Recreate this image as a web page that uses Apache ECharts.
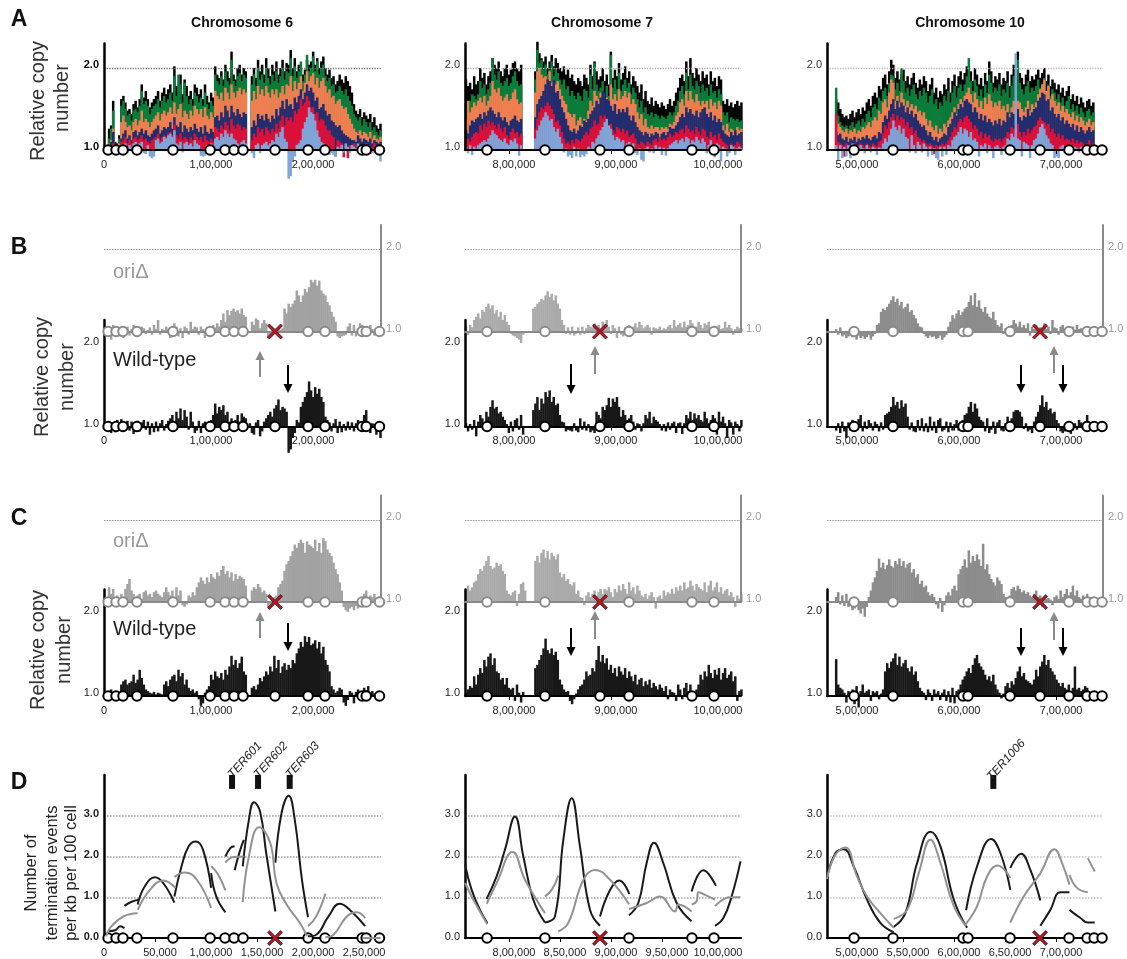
<!DOCTYPE html>
<html><head><meta charset="utf-8">
<script src="https://cdn.jsdelivr.net/npm/echarts@6/dist/echarts.min.js"></script>
<style>html,body{margin:0;padding:0;background:#fff}#c{width:1127px;height:959px}</style></head>
<body><div id="c"></div>
<script>
// Bars: copy number above 1.0, in hundredths, one value per 2 kb bin
const a6k=[0,0,26,30,60,10,8,18,62,66,58,48,50,44,56,60,52,62,80,64,72,62,52,58,62,66,72,60,70,76,68,74,80,70,
102,78,70,92,68,86,78,66,72,62,80,76,68,74,62,80,66,58,70,64,102,92,88,96,86,104,96,88,120,92,86,100,104,92,
100,96,0,0,90,100,88,110,96,104,92,112,100,90,104,96,108,92,100,110,96,106,104,122,100,112,96,104,100,92,98,110,104,108,
120,104,112,100,108,114,100,92,98,88,90,80,84,92,86,82,90,84,78,70,56,48,44,50,40,46,42,38,44,34,40,30,26,32];
const a6g=[0,0,14,26,48,6,6,14,54,60,50,42,44,36,48,50,46,54,72,56,60,54,44,50,54,56,62,52,60,66,58,62,70,60,
90,66,92,80,58,82,66,56,62,54,70,66,58,64,54,70,56,50,60,54,92,84,80,90,78,96,84,80,110,84,78,90,94,84,
92,88,0,0,80,92,78,100,86,92,82,100,88,80,92,84,96,82,90,100,86,96,94,112,90,102,88,96,108,84,92,116,96,100,
114,96,108,92,100,104,90,84,88,78,80,70,72,78,72,68,74,66,60,54,44,40,36,40,30,38,34,28,34,24,28,22,18,24];
const a6o=[0,0,8,12,26,4,4,8,34,42,34,28,30,24,34,38,30,36,48,34,38,34,28,34,38,42,46,36,44,48,42,46,52,44,
58,44,50,56,40,48,44,38,48,42,54,50,44,50,40,52,42,38,46,40,72,66,62,70,60,76,70,62,80,70,64,72,76,68,
74,70,0,0,60,72,62,78,68,74,66,78,70,64,74,68,74,64,70,78,68,80,78,90,72,84,74,82,90,72,82,96,84,90,
94,80,88,76,84,88,78,70,74,64,66,56,60,62,54,50,52,44,38,32,26,22,20,24,18,22,20,16,22,14,18,14,12,16];
const a6n=[0,0,4,10,22,2,2,4,14,20,24,14,18,12,22,24,18,22,26,20,24,18,16,20,24,26,30,20,24,28,26,28,34,26,
40,30,28,34,22,30,26,22,28,24,32,26,22,28,20,30,22,20,26,22,40,42,36,46,40,54,48,40,54,46,42,50,44,40,
46,44,0,0,28,36,30,44,38,42,36,44,38,34,42,38,50,42,52,60,50,62,54,56,50,64,58,66,74,62,70,80,72,76,
70,60,64,50,52,56,48,42,44,36,34,30,28,30,24,20,18,16,14,12,12,10,18,14,10,14,12,10,14,8,12,10,8,10];
const a6r=[0,0,2,4,8,0,0,2,10,12,16,8,12,8,14,16,12,14,18,12,14,10,8,12,14,16,20,12,16,18,16,20,22,18,
30,18,14,20,12,16,14,10,16,12,20,16,12,16,10,18,12,10,14,10,28,26,22,30,26,34,30,24,38,30,26,32,30,24,
28,26,0,0,12,20,16,28,22,26,18,28,24,20,26,22,32,26,36,42,30,40,36,40,34,48,44,50,62,54,58,66,60,52,
52,44,46,36,38,36,30,24,24,18,16,-8,12,10,8,-9,6,-10,6,4,8,6,-3,4,2,-4,8,4,-5,4,8,6,4,2];
const a6b=[0,0,0,0,2,0,0,0,4,6,8,-4,6,4,8,10,6,8,10,-4,-5,6,-8,-10,-8,12,14,8,10,16,14,18,20,16,
24,8,6,10,-3,8,10,6,8,4,12,8,6,-7,-8,-7,6,4,8,4,14,16,12,20,16,24,20,16,20,14,12,8,6,10,
12,8,0,0,-4,-10,6,8,-4,6,8,10,6,8,12,10,20,16,22,28,14,10,-35,-32,-14,-8,6,8,12,26,34,40,52,46,
44,36,24,16,10,8,-4,6,-6,-4,-6,-8,4,2,6,-3,8,4,-4,6,4,2,8,6,4,-3,-4,6,2,-4,-3,4,6,-14];
const a7k=[86,78,82,74,90,80,84,100,88,94,80,90,96,112,104,100,108,96,90,100,104,92,98,106,108,100,96,104,0,0,0,0,0,0,
96,132,118,112,108,114,100,108,116,102,112,106,100,96,102,92,98,88,92,84,80,88,84,78,92,88,80,104,90,108,96,86,90,100,
84,92,80,120,88,98,90,106,86,94,102,88,96,80,90,84,78,70,80,62,72,60,56,64,54,60,56,52,58,54,50,56,62,54,
60,70,76,88,92,84,108,90,112,94,88,100,92,84,96,88,92,80,96,84,88,78,90,86,60,56,62,54,58,52,56,60,54,58];
const a7g=[56,52,60,68,66,62,68,84,76,80,68,74,82,112,92,86,96,82,78,84,88,78,82,90,96,84,78,80,0,0,0,0,0,0,
86,122,106,110,98,104,92,98,108,90,100,94,86,80,86,74,78,66,72,66,62,70,66,60,74,72,64,92,74,106,80,72,76,84,
70,78,66,116,76,86,74,94,72,80,86,76,82,68,76,70,62,52,60,46,52,44,42,46,40,44,42,38,42,40,38,42,46,42,
46,54,60,72,78,68,94,74,92,78,74,84,78,70,80,72,76,66,80,70,72,64,74,68,46,42,46,34,40,38,36,38,34,36];
const a7o=[38,60,46,52,58,54,60,64,58,66,54,60,66,84,74,70,76,66,60,64,68,60,62,70,74,62,56,58,0,0,0,0,0,0,
70,96,100,92,88,90,84,96,82,86,80,84,74,66,60,56,46,44,40,44,30,36,40,32,38,36,48,60,54,72,66,62,70,72,
60,64,56,80,62,68,60,74,62,66,72,64,70,56,62,56,46,38,44,30,38,28,26,30,26,28,28,24,28,26,28,26,32,30,
34,42,46,58,62,54,72,60,72,62,58,68,60,54,60,56,60,50,62,54,58,50,60,54,30,24,32,22,26,24,20,28,24,26];
const a7n=[24,20,30,36,34,38,40,44,38,46,42,48,52,48,44,40,46,40,36,40,34,30,36,38,42,36,34,38,0,0,0,0,0,0,
40,56,62,66,72,80,86,84,78,86,70,72,62,52,46,38,30,24,22,26,20,24,30,28,36,34,38,44,48,52,60,56,64,72,
70,62,60,54,48,56,44,50,46,50,46,52,42,36,42,34,28,24,22,18,22,20,16,20,18,22,20,16,20,22,18,22,28,26,
26,30,34,40,44,40,52,46,50,44,42,48,40,46,50,52,44,40,46,36,42,34,38,34,24,20,18,16,22,18,24,18,20,22];
const a7r=[12,14,10,16,20,22,20,30,24,32,28,36,30,34,30,26,32,26,22,28,18,14,22,26,20,22,16,20,0,0,0,0,0,0,
26,38,46,52,50,54,58,54,50,44,34,36,30,22,14,8,10,6,12,8,14,12,10,14,18,22,18,26,28,36,30,32,42,38,
42,36,30,32,24,20,28,26,22,26,20,24,16,18,20,14,8,6,10,8,6,10,8,6,12,14,10,16,12,14,12,16,20,16,
18,22,20,24,26,20,30,26,22,24,20,28,22,18,26,24,16,14,22,16,18,12,20,14,10,8,6,-3,8,4,6,10,8,4];
const a7b=[4,-4,6,-6,4,2,6,8,10,12,10,14,18,24,20,18,14,12,10,14,8,6,12,10,14,8,-7,6,0,0,0,0,0,0,
14,24,30,36,40,46,42,36,38,28,22,26,16,8,-3,2,-8,-6,-10,4,-8,2,-9,-6,-8,-5,4,2,10,8,14,18,24,28,
34,38,30,26,18,12,16,14,10,12,-3,8,10,4,8,-4,-6,2,-12,-14,2,4,-3,2,-4,6,2,4,-6,3,-7,2,6,8,
10,12,8,12,14,10,16,14,8,12,10,16,12,8,14,10,-4,6,12,-6,-9,8,6,-14,4,2,-8,-4,6,4,-6,2,4,2];
const a10k=[0,0,0,0,62,58,50,44,40,42,38,44,48,40,46,50,44,52,48,58,62,54,66,70,64,78,74,88,92,80,96,110,104,88,
96,86,92,98,84,90,80,88,94,82,76,86,80,90,84,72,80,88,70,76,64,72,68,80,74,88,70,84,92,78,90,96,86,94,
102,88,96,84,100,92,80,88,78,94,84,108,96,82,90,86,94,80,88,84,96,78,92,104,86,120,94,88,80,92,98,84,90,86,
92,98,88,94,100,84,92,78,86,82,74,80,70,76,66,72,78,62,68,60,66,56,64,58,52,60,62,54,58,0,0,0,0,0];
const a10g=[0,0,0,0,76,42,34,30,28,30,26,30,34,28,32,36,30,38,34,44,48,40,52,56,50,64,60,72,76,66,82,92,90,74,
82,72,100,84,70,76,66,74,80,68,62,72,66,76,70,58,66,74,56,62,50,58,54,66,60,72,58,70,78,64,76,80,72,80,
90,112,84,72,86,78,66,74,64,80,70,92,82,70,76,72,80,66,74,70,82,64,78,90,72,110,82,74,68,78,84,70,76,72,
78,86,76,80,88,72,80,66,74,70,62,68,58,64,54,60,66,50,56,48,54,44,52,46,40,48,50,42,46,0,0,0,0,0];
const a10o=[0,0,0,0,36,32,28,24,22,26,20,24,22,26,20,24,22,28,26,30,34,28,36,40,36,48,44,58,62,52,70,86,82,60,
66,58,70,62,54,60,52,56,50,54,46,48,42,46,38,30,36,28,24,30,20,26,22,32,28,36,40,46,52,44,56,62,58,66,
70,76,68,58,70,62,52,60,50,64,56,68,60,52,58,54,60,50,54,48,56,44,52,60,48,60,58,50,46,52,60,48,56,52,
58,68,74,80,86,72,78,62,68,60,54,58,48,54,46,50,44,40,46,36,42,34,40,36,30,34,38,30,34,0,0,0,0,0];
const a10n=[0,0,0,0,22,18,20,14,12,16,10,14,12,16,10,14,12,16,14,18,14,12,16,18,14,22,20,34,42,38,48,56,62,50,
60,52,58,54,46,52,44,48,40,44,36,32,28,30,24,18,22,16,12,16,10,14,16,20,18,28,32,38,46,42,50,56,52,60,
62,58,56,46,52,46,38,44,36,42,34,38,34,30,36,32,38,30,36,34,46,40,46,44,42,50,40,36,42,40,50,42,46,50,
52,60,64,70,68,60,62,48,52,44,40,44,36,40,32,36,32,28,32,24,30,22,28,24,20,24,28,22,24,0,0,0,0,0];
const a10r=[0,0,0,0,44,10,8,6,-8,8,4,-6,6,8,4,6,8,6,4,8,6,4,8,6,4,10,12,20,30,26,34,40,44,36,
42,36,40,38,30,34,26,28,20,24,16,14,10,12,8,6,8,6,-5,6,4,6,8,6,8,12,16,22,28,26,34,38,34,40,
42,38,34,26,30,26,18,22,14,20,16,18,12,10,14,12,14,10,14,16,22,20,28,26,24,32,22,16,22,18,26,20,24,28,
30,36,40,36,34,30,32,22,26,20,16,20,14,18,12,14,12,10,14,8,12,8,10,8,6,8,12,6,8,0,0,0,0,0];
const a10b=[0,0,0,0,6,-13,6,-10,4,-8,6,-10,8,4,-6,4,6,2,-4,6,2,-3,4,2,-6,3,2,8,14,10,18,26,36,28,
24,30,20,26,16,14,-3,18,6,-4,10,6,-3,8,4,-8,4,-6,2,-10,-12,4,-8,4,-6,6,4,12,16,18,22,28,20,26,
24,16,22,12,14,10,-8,6,4,8,-4,6,2,-10,4,6,2,-6,4,6,14,12,20,16,118,14,12,-8,10,8,6,-10,6,12,
14,20,28,32,26,18,14,8,6,-10,-8,-10,4,6,-4,2,6,2,-3,4,2,-3,4,2,-2,2,4,-2,2,0,0,0,0,0];
const b6o=[0,0,5,-10,8,6,3,-6,5,-8,4,6,-5,3,8,2,4,-4,6,4,-3,2,5,-4,8,3,14,-4,3,2,6,3,-8,4,
10,6,-6,4,-8,6,4,-4,12,3,6,5,-4,6,3,-8,5,-3,4,8,5,10,6,14,22,12,26,20,25,28,24,26,22,28,
20,18,0,0,12,8,16,14,4,10,14,10,-8,-5,6,4,-3,5,2,4,28,22,34,30,34,38,50,44,36,44,52,48,54,63,
60,63,56,62,50,46,44,36,32,24,18,12,-6,-8,-6,-5,-4,6,10,-5,8,-6,4,10,8,3,-6,4,8,3,-5,3,2,3];
const b6w=[0,-5,6,-8,3,-7,8,-3,9,-6,4,7,-5,6,-9,3,7,-6,5,8,-4,6,-10,4,-7,6,-6,4,8,-5,3,7,10,14,
6,18,10,22,8,20,12,-4,18,6,-8,-5,7,-8,4,6,3,-6,8,14,28,16,24,20,26,14,18,6,10,4,8,14,6,16,
12,10,0,4,-8,-10,5,8,-12,-6,6,10,14,18,12,22,26,33,20,24,22,18,-32,-28,-14,-8,8,5,24,30,36,42,55,44,
36,48,40,46,36,30,12,8,5,-6,4,9,-8,6,-7,3,-5,6,-4,5,-6,4,8,-5,3,14,20,6,-8,4,3,-10,2,-14];
const c6o=[0,6,18,10,16,6,8,4,10,6,16,22,28,14,10,6,8,10,4,12,14,8,10,6,12,14,10,8,6,12,18,12,8,14,
6,18,8,14,-4,-6,-3,8,6,12,8,18,24,30,26,22,30,24,34,30,28,36,32,39,44,34,38,30,36,26,34,28,32,30,
28,20,0,0,14,18,16,22,18,12,14,10,-6,-3,4,6,8,18,22,26,38,46,50,56,62,70,66,72,76,72,60,74,70,68,
66,76,62,72,60,78,74,64,60,56,48,40,34,24,14,-6,-10,-12,-8,-6,-10,-5,-8,3,6,10,14,4,8,6,10,4,6,3];
const c6w=[0,3,5,8,4,-3,6,4,14,18,20,14,16,18,26,16,20,32,22,14,8,6,4,3,5,2,4,3,2,14,18,12,20,24,
26,18,32,24,28,14,20,10,6,8,4,6,-4,-12,-9,4,8,12,26,20,30,24,22,28,20,32,26,36,49,38,44,34,40,48,
30,26,0,0,10,12,8,14,22,18,24,30,26,36,30,49,34,44,28,36,40,32,38,34,44,40,52,58,66,60,73,66,72,62,
64,68,58,66,52,60,44,38,30,12,8,4,6,10,8,-8,-12,-5,6,4,-9,5,8,3,6,10,7,12,4,6,3,2,4,2];
const b7o=[6,-4,8,5,14,18,22,16,26,24,30,34,28,32,22,26,18,24,14,20,12,8,-3,-5,-6,-8,-10,-14,-4,0,0,0,0,28,
30,34,36,40,38,44,49,42,46,38,44,34,28,14,8,-3,5,-4,6,-5,-3,5,-4,6,-3,4,8,6,5,10,6,8,4,12,
8,14,6,-3,8,4,-8,6,-4,-6,5,3,8,4,6,10,5,12,8,4,6,8,5,-4,5,4,3,6,2,4,3,6,8,4,
14,6,8,10,5,12,6,8,14,10,4,6,12,8,4,10,8,12,5,3,-4,6,8,3,4,12,5,8,4,-4,3,6,4,3];
const b7w=[4,-6,3,-4,8,-12,6,14,10,4,18,12,24,32,22,24,16,18,12,8,3,-8,6,-6,8,10,-4,14,-10,0,0,0,0,20,
28,36,20,34,28,42,36,44,30,36,26,28,14,6,5,-6,-4,-5,-6,4,-5,-7,10,-4,6,-5,3,-7,-5,-8,18,14,10,24,
20,26,35,24,34,30,36,24,12,20,14,8,10,14,6,-4,4,3,-6,4,14,10,18,4,12,8,6,3,-5,3,-6,5,-4,4,
6,-8,4,5,-9,4,14,10,18,8,16,10,14,8,6,18,10,4,8,14,10,-10,18,6,12,4,-14,8,5,-10,6,3,-6,8];
const c7o=[16,20,14,18,24,26,34,40,38,44,50,56,44,40,42,48,44,46,38,34,14,10,8,12,14,-5,10,22,24,14,0,0,0,0,
50,56,48,60,64,54,62,52,60,56,52,58,36,30,34,26,28,22,20,24,10,14,6,5,-4,8,12,6,10,14,8,12,16,10,
16,14,18,12,6,16,12,20,14,22,16,10,24,14,18,10,20,14,8,6,10,4,8,12,6,-8,6,8,4,14,8,12,10,16,
10,18,14,20,14,24,16,18,26,20,14,22,18,16,14,24,12,20,26,14,18,24,12,18,10,14,16,8,12,6,-6,8,4,10];
const c7w=[3,8,12,10,24,14,26,34,28,44,36,48,52,38,46,30,28,20,22,14,22,10,8,10,-6,14,4,-8,5,0,0,0,0,0,
34,38,44,50,58,70,56,52,58,50,54,44,20,14,8,5,6,-6,-10,-4,3,8,12,14,20,30,24,26,34,30,44,61,42,50,
40,46,32,38,28,34,24,36,30,26,34,22,30,24,18,26,14,20,22,12,18,14,20,10,16,12,8,14,10,6,12,-4,8,5,
4,-6,14,8,-4,10,16,6,14,-5,-4,8,14,26,20,30,24,38,28,22,32,26,34,20,28,34,22,26,30,18,24,-6,6,8];
const b10o=[0,0,0,0,3,-4,5,-6,-4,-8,-6,-4,-7,3,-10,-5,-8,-6,-9,-7,-4,-10,-6,-3,8,10,24,28,26,30,34,38,43,36,
40,32,36,28,30,34,24,26,20,16,10,6,5,-3,-6,-8,-5,-7,-6,-9,-8,-5,-10,-7,-4,6,12,20,16,22,26,20,24,28,
30,36,44,32,47,30,38,28,24,30,22,18,16,24,14,8,6,10,-3,4,-6,-4,8,14,10,6,12,5,8,4,10,-5,6,3,
8,-3,5,4,10,3,6,-3,14,5,4,-4,6,8,3,-5,4,3,6,2,8,3,4,2,5,3,3,2,3,2,2,1,2,1];
const b10w=[0,0,0,0,-5,4,-8,6,-6,-14,5,-5,8,6,-4,9,14,-6,6,-3,8,4,-5,6,3,-6,5,-4,14,16,18,24,36,26,
30,22,32,24,28,12,-4,5,-6,-7,8,-5,10,-6,4,-7,12,-5,6,-8,8,10,-6,-4,6,-7,5,-5,3,8,-5,6,8,14,
16,24,30,18,28,22,12,8,6,-6,10,-8,-4,6,-9,5,8,-5,-6,4,12,-5,10,18,20,20,18,12,-3,4,-6,-4,-8,6,
12,18,26,38,24,30,20,22,16,18,8,4,-6,-8,-6,-3,6,-9,-5,4,-4,8,5,-3,6,14,5,3,2,4,3,2,3,2];
const c10o=[0,0,0,0,6,12,-3,8,-5,10,-6,-4,-10,-8,4,-10,-14,-8,-18,-6,6,14,24,30,38,53,42,48,40,45,52,44,42,50,
46,53,44,50,42,46,48,36,40,30,34,22,26,18,20,12,8,10,6,-3,-8,5,-12,-4,8,12,8,16,20,14,34,40,44,52,
42,63,48,56,50,58,52,44,71,40,46,34,28,24,20,30,26,22,10,6,-4,8,16,18,14,20,16,12,14,10,12,8,6,10,
14,6,8,-6,6,4,5,3,-4,6,8,4,14,6,10,16,8,12,20,8,14,6,4,8,6,10,4,6,3,4,2,3,2,1];
const c10w=[0,0,0,0,45,14,10,8,4,-8,6,4,8,-10,12,-14,6,14,4,6,8,-6,6,4,6,-4,3,8,30,40,34,42,46,52,
38,48,36,40,44,34,30,36,26,30,18,10,6,4,-5,8,4,-6,8,3,6,-5,4,8,-6,6,-8,10,-9,6,8,14,20,24,
30,34,28,38,46,50,40,36,32,26,20,24,18,26,14,8,4,-3,3,12,16,10,18,14,22,30,36,24,28,20,18,16,14,20,
32,24,36,42,50,38,44,34,30,26,20,16,12,16,10,8,14,6,10,36,8,10,6,8,12,10,4,3,2,3,2,2,1,1];

// Origins (bp) and deleted origins
const ori6=[4000,11800,18600,32300,67600,104000,118600,127500,136300,167600,200000,216600,253000,257000,270000];
const ori7=[778500,835300,889200,917700,979400,1001000];
const ori10=[502000,540200,608800,613700,654900,684300,712700,730400,737300,745100];
const del6=167600, del7=889200, del10=684300;

// Axis ticks
const ticks6=[0,100000,200000], ticks7=[800000,900000,1000000], ticks10=[500000,600000,700000];
const dTicks6=[0,50000,100000,150000,200000,250000], dTicks7=[800000,850000,900000,950000,1000000], dTicks10=[500000,550000,600000,650000,700000];

// Panel D termination curves: [kb, events per kb per 100 cells]
const d6black=[
 [[5,.17],[11,.19],[16,.29],[20,.24]],
 [[20,.79],[27,.89],[34,.94]],
 [[33,.82],[40,1.27],[50,1.49],[58,1.35],[69,.87]],
 [[69,1.02],[76,1.76],[83,2.25],[90,2.37],[97,2.17],[105,1.23]],
 [[105,1.59],[110,1.02],[119,.63]],
 [[119,2.0],[124,2.21],[128,2.25]],
 [[128,1.66],[133,2.12],[137,2.41]],
 [[136,1.76],[142,2.9],[147,3.33],[153,3.1],[159,2.08],[168,.65]],
 [[168,1.85],[174,3.06],[181,3.49],[187,2.9],[194,1.43],[200,.51]],
 [[200,.04],[208,.08],[220,.53],[231,.84],[241,.69],[256,.29]]];
const d6gray=[
 [[2,.04],[6,.25],[19,.53],[33,.61]],
 [[33,.69],[45,1.18],[58,1.41],[70,1.23]],
 [[69,1.5],[79,1.61],[91,1.43],[105,.74]],
 [[105,1.77],[112,1.55],[119,1.17]],
 [[119,1.85],[127,1.99],[137,2.0]],
 [[136,.88],[142,2.0],[152,2.72],[163,2.33],[169,1.35],[179,.82],[192,.37],[199,.04]],
 [[200,.29],[208,.53],[217,1.09]],
 [[217,.02],[225,.08],[238,.53],[248,.63],[256,.49]],
 [[254,0],[271,0]]];
const d7black=[
 [[757,1.8],[763.4,1.18],[771.6,.69],[778.8,.37]],
 [[778.1,.96],[787.9,1.51],[796.1,2.17],[805.9,2.98],[814.1,2.0],[823.9,.94],[835.3,.38]],
 [[835.3,.38],[845.1,.53],[853.3,2.41],[861.5,3.43],[869.6,2.25],[879.5,.69],[889.3,.3]],
 [[889.3,.53],[899.1,1.18],[908.2,1.41],[918,1.08]],
 [[917.7,.56],[926.8,.86],[935,1.84],[942.2,2.34],[951.3,1.84],[964.4,.86],[979.1,.41]],
 [[979.1,1.14],[990.6,1.66],[1003,1.28]],
 [[1002,.3],[1010.2,.49],[1018.3,1.02],[1027,1.88]]];
const d7gray=[
 [[757,1.35],[765.1,.94],[778.8,.34]],
 [[778.1,.84],[787.9,1.35],[803.6,2.11],[815.7,1.43],[835.3,.61]],
 [[835.3,1.02],[841.9,1.18],[848.4,1.53]],
 [[848.4,.16],[858.2,.37],[873,1.43],[884.3,1.67],[899.1,1.43],[917.7,.83]],
 [[917.7,.71],[935,.86],[948.1,1.02],[962.8,.65],[966.1,.82],[979.1,.65]],
 [[979.1,.82],[984,.9],[985.7,1.12],[992.2,1.06],[1002,.94]],
 [[1002,.78],[1016.7,1.0],[1027,1.0]]];
const d10black=[
 [[475.5,1.47],[483.7,2.08],[491.8,2.18],[501.6,1.76],[514.7,.94],[527.8,.37],[540.9,.14]],
 [[540.9,.27],[552.3,.61],[563.8,1.84],[576.9,2.61],[586.7,2.25],[599.8,.94],[612.8,.25]],
 [[611.8,.68],[622.6,1.76],[636.4,2.43],[645.5,2.08],[655.2,1.18]],
 [[655.2,1.72],[665.7,2.07],[674.8,1.67],[684.6,.92]],
 [[684.6,.3],[694.4,.69],[704.2,1.12],[713.1,1.12]],
 [[713.1,.69],[723.9,.49],[731.1,.38],[737.9,.38]]];
const d10gray=[
 [[475.5,1.45],[483.7,2.04],[493.5,2.22],[504.9,1.51],[514.7,1.02],[527.8,.61],[540.9,.25]],
 [[540.9,.47],[554,.69],[565.4,1.59],[576.9,2.41],[586.7,1.84],[599.8,.78],[611.8,.29]],
 [[611.8,.35],[622.6,.78],[632.4,1.51],[642.8,1.78],[655.2,1.47]],
 [[655.2,.38],[668.3,1.02],[684.6,1.59],[698.4,2.18],[705.9,1.84],[713.1,1.31]],
 [[713.1,1.55],[720.6,1.23],[731.1,1.12]],
 [[731.1,1.96],[737.9,1.63]]];
const ter6=[['TER601',125500],['TER602',151000],['TER603',182000]];
const ter10=[['TER1006',638500]];

// ---- layout ----
const FONT='"Liberation Sans",Arial,sans-serif';
const BIN=2000;
const chroms=[
 {left:104,width:277,xmin:0,xmax:271500,ori:ori6,del:del6,ticks:ticks6,dTicks:dTicks6,oriCol:'#a2a2a2',aSplit:'#777',dSplit:'#9a9a9a',
  a:[a6k,a6g,a6o,a6n,a6r,a6b],b:[b6o,b6w],c:[c6o,c6w],d:[d6black,d6gray],ter:ter6,strong:true},
 {left:465,width:276,xmin:756900,xmax:1027500,ori:ori7,del:del7,ticks:ticks7,dTicks:dTicks7,oriCol:'#aaaaaa',aSplit:'#aaa',dSplit:'#aaa',
  a:[a7k,a7g,a7o,a7n,a7r,a7b],b:[b7o,b7w],c:[c7o,c7w],d:[d7black,d7gray],ter:[],strong:false},
 {left:827,width:276,xmin:475500,xmax:746000,ori:ori10,del:del10,ticks:ticks10,dTicks:dTicks10,oriCol:'#8c8c8c',aSplit:'#bbb',dSplit:'#c4c4c4',
  a:[a10k,a10g,a10o,a10n,a10r,a10b],b:[b10o,b10w],c:[c10o,c10w],d:[d10black,d10gray],ter:ter10,strong:false}
];
const layerCols=['#000000','#0a7d3a','#ef7f50','#232c6e','#dc1039','#7fa5d8'];
const XPATH='path://M2 0 L8 6 L14 0 L16 2 L10 8 L16 14 L14 16 L8 10 L2 16 L0 14 L6 8 L0 2Z';
const grid=[],xAxis=[],yAxis=[],series=[],graphic=[];

function indian(v){
  if(v<100000) return v===0?'0':(v/1000)+',000';
  const s=String(v),last=s.slice(-3),rest=s.slice(0,-3);
  return rest.replace(/\B(?=(\d{2})+(?!\d))/g,',')+','+last;
}
function addPanel(ch,baseY,o){
  const pxPerUnit=o.pxPerUnit||82, ymax=o.ymax||1.3, h=pxPerUnit*ymax, gi=grid.length;
  grid.push({left:ch.left,top:baseY-h,width:ch.width,height:h,containLabel:false});
  const col=o.axisCol||'#000', textCol=o.textCol||'#222';
  const ticks=o.ticks||[];
  xAxis.push({type:'value',gridIndex:gi,min:ch.xmin,max:ch.xmax,z:3,
    axisLine:{show:true,onZero:true,lineStyle:{color:col,width:2}},
    splitLine:{show:false},
    axisTick:{show:ticks.length>0,customValues:ticks,length:4,lineStyle:{color:'#000',width:1}},
    axisLabel:{show:ticks.length>0,customValues:ticks,margin:9,hideOverlap:false,
      formatter:v=>v===0?'{z|0}':'{s|'+indian(v)+'}',
      rich:{s:{padding:[0,0,0,10],fontSize:11,fontFamily:FONT,color:'#222'},z:{fontSize:11,fontFamily:FONT,color:'#222'}}}});
  yAxis.push({type:'value',gridIndex:gi,min:0,max:ymax,interval:1,position:o.right?'right':'left',z:3,
    axisLine:{show:true,onZero:false,lineStyle:{color:col,width:o.right?2:2.5}},
    axisTick:{show:false},
    splitLine:{show:!!o.split,showMinLine:false,showMaxLine:false,lineStyle:{type:'dotted',color:o.splitCol||'#777',width:o.splitW||1}},
    axisLabel:{show:true,margin:5,verticalAlign:'bottom',lineHeight:o.labelLH||6,fontSize:11,fontFamily:FONT,color:textCol,
      fontWeight:o.bold?'bold':'normal',formatter:o.yFmt||(v=>v===0?'1.0':v===1?'2.0':'')}});
  return gi;
}
function bars(ch,gi,vals,col,z){
  series.push({type:'bar',xAxisIndex:gi,yAxisIndex:gi,barWidth:2.5,barGap:'-100%',clip:false,z:z||2,silent:true,
    itemStyle:{color:col},
    data:vals.map((v,i)=>[ch.xmin+(i+.5)*BIN,v/100])});
}
function origins(ch,gi,o){
  const pts=o.hideDel?ch.ori.filter(v=>v!==ch.del):ch.ori;
  series.push({type:'scatter',xAxisIndex:gi,yAxisIndex:gi,clip:false,z:5,silent:true,symbol:'circle',symbolSize:9.5,
    itemStyle:{color:'#fff',borderColor:o.col||'#000',borderWidth:2,opacity:1},data:pts.map(v=>[v,0])});
  if(o.hideDel) series.push({type:'scatter',xAxisIndex:gi,yAxisIndex:gi,clip:false,z:7,silent:true,symbol:XPATH,symbolSize:15,
    itemStyle:{color:'#c1121f',borderColor:'#222',borderWidth:.8,opacity:1},data:[[ch.del,0]]});
}
const oriAxis='#8a8a8a';
chroms.forEach((ch,ci)=>{
  // A
  let gi=addPanel(ch,150,{ticks:ch.ticks,split:true,splitCol:ch.aSplit,splitW:1.3,bold:ch.strong,textCol:ch.strong?'#000':'#333'});
  ch.a.forEach((vals,k)=>bars(ch,gi,vals,layerCols[k]));
  origins(ch,gi,{});
  // B, C
  [[331.5,426.5,ch.b],[602,696,ch.c]].forEach(([yO,yW,d])=>{
    let g=addPanel(ch,yO,{right:true,axisCol:oriAxis,textCol:'#9a9a9a',split:true,splitCol:'#666',splitW:.8});
    bars(ch,g,d[0],ch.oriCol);
    origins(ch,g,{col:oriAxis,hideDel:true});
    g=addPanel(ch,yW,{ticks:ch.ticks,textCol:'#222'});
    bars(ch,g,d[1],'#181818');
    origins(ch,g,{});
  });
  // D
  gi=addPanel(ch,938,{ticks:ch.dTicks,ymax:4,pxPerUnit:40.75,split:true,splitCol:ch.dSplit,splitW:1.5,bold:ch.strong,textCol:'#222',labelLH:3,
    yFmt:v=>v<4?v.toFixed(1):''});
  origins(ch,gi,{hideDel:true});
  [[ch.d[0],'#1a1a1a'],[ch.d[1],'#929292']].forEach(([segs,col])=>segs.forEach(seg=>{
    series.push({type:'line',xAxisIndex:gi,yAxisIndex:gi,smooth:.45,showSymbol:false,clip:false,z:col==='#1a1a1a'?6:6.5,silent:true,
      lineStyle:{color:col,width:2},data:seg.map(p=>[p[0]*1000,p[1]])});
  }));
  if(ch.ter.length) series.push({type:'scatter',xAxisIndex:gi,yAxisIndex:gi,clip:false,z:5,silent:true,symbol:'rect',symbolSize:[6,14],
    itemStyle:{color:'#111',opacity:1},
    label:{show:true,position:'top',rotate:48,offset:[16,9],formatter:p=>p.data[2],fontSize:12,fontStyle:'italic',fontFamily:FONT,color:'#222'},
    data:ch.ter.map(t=>[t[1],3.83,t[0]])});
});

// ---- annotations ----
function txt(text,x,y,size,o={}){
  graphic.push({type:'text',x,y,rotation:o.rot||0,z:20,silent:true,style:{text,fill:o.col||'#222',
    font:(o.weight||'normal')+' '+size+'px '+FONT,align:o.align||'center',verticalAlign:'middle',lineHeight:o.lh||size*1.2}});
}
function arrow(x,y1,y2,col){
  const d=y2>y1?1:-1;
  graphic.push({type:'line',z:15,silent:true,shape:{x1:x,y1:y1,x2:x,y2:y2-d*6},style:{stroke:col,lineWidth:2}});
  graphic.push({type:'polygon',z:15,silent:true,shape:{points:[[x-4.5,y2-d*9],[x+4.5,y2-d*9],[x,y2]]},style:{fill:col}});
}
txt('Chromosome 6',242,23,14,{weight:'bold',col:'#111'});
txt('Chromosome 7',602,23,14,{weight:'bold',col:'#111'});
txt('Chromosome 10',970,23,14,{weight:'bold',col:'#111'});
txt('A',19,20,23,{weight:'bold',col:'#111'});
txt('B',19,248,23,{weight:'bold',col:'#111'});
txt('C',19,519,23,{weight:'bold',col:'#111'});
txt('D',19,783,23,{weight:'bold',col:'#111'});
const R=Math.PI/2;
txt('Relative copy',38,101,20,{rot:R,col:'#333'}); txt('number',62,98,20,{rot:R,col:'#333'});
txt('Relative copy',42,377,20,{rot:R,col:'#333'}); txt('number',67,377,20,{rot:R,col:'#333'});
txt('Relative copy',38,650,20,{rot:R,col:'#333'}); txt('number',64,650,20,{rot:R,col:'#333'});
txt('Number of',31,873,16.5,{rot:R,col:'#222'});
txt('termination events',52,873,16.5,{rot:R,col:'#222'});
txt('per kb per 100 cell',71,873,16.5,{rot:R,col:'#222'});
txt('oriΔ',113,272,20,{align:'left',col:'#999'});
txt('Wild-type',113,360,20,{align:'left',col:'#222'});
txt('oriΔ',113,541,20,{align:'left',col:'#999'});
txt('Wild-type',113,629,20,{align:'left',col:'#222'});
const GA='#8a8a8a',KA='#000';
arrow(260,377,351,GA); arrow(288,365,393,KA);
arrow(260,638,612,GA); arrow(288,623,651,KA);
arrow(595,374,346,GA); arrow(571,364,394,KA);
arrow(595,639,611,GA); arrow(571,628,656,KA);
arrow(1054,373,346,GA); arrow(1021,365,393,KA); arrow(1063,365,393,KA);
arrow(1054,640,612,GA); arrow(1021,628,656,KA); arrow(1063,628,656,KA);

const chart=echarts.init(document.getElementById('c'),null,{renderer:'canvas',width:1127,height:959});
chart.setOption({animation:false,backgroundColor:'#fff',textStyle:{fontFamily:FONT},grid,xAxis,yAxis,series,graphic});
</script></body></html>
